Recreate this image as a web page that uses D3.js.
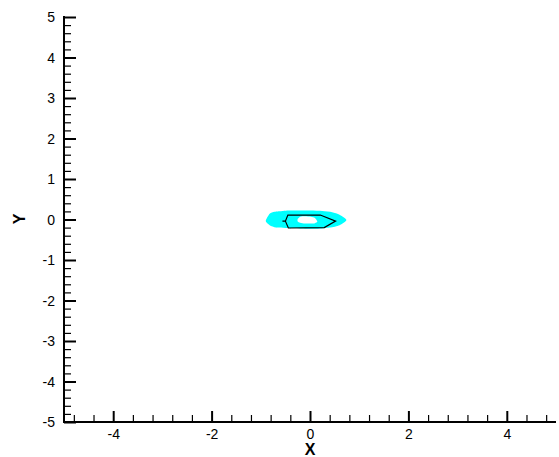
<!DOCTYPE html>
<html><head><meta charset="utf-8">
<script src="https://cdn.jsdelivr.net/npm/d3@7"></script>
<style>body{margin:0;background:#fff}svg{display:block}</style>
</head><body>
<svg id="c" width="559" height="457"></svg>
<script>
const xTicks = [-4, -2, 0, 2, 4];
const yTicks = [-5, -4, -3, -2, -1, 0, 1, 2, 3, 4, 5];
// outer cyan contour region (x, y)
const outerX = [-0.90, -0.82, -0.72, -0.55, -0.42, 0.00, 0.25, 0.45, 0.60, 0.74, 0.60, 0.40, 0.13, -0.20, -0.50, -0.69, -0.82];
const outerY = [-0.04, 0.14, 0.19, 0.21, 0.22, 0.22, 0.21, 0.18, 0.12, -0.01, -0.14, -0.20, -0.23, -0.22, -0.21, -0.20, -0.14];
// inner white hole
const holeX = [-0.25, -0.20, -0.10, 0.02, 0.10, 0.15, 0.10, 0.02, -0.10, -0.20, -0.25];
const holeY = [0.01, 0.07, 0.08, 0.07, 0.04, -0.05, -0.09, -0.10, -0.10, -0.08, -0.05];
// black contour line
const lineX = [-0.56, -0.50, -0.45, 0.21, 0.52, 0.29, -0.44, -0.50];
const lineY = [-0.04, -0.04, 0.11, 0.11, -0.04, -0.20, -0.21, -0.04];

const svg = d3.select("#c");
const x = d3.scaleLinear().domain([-5, 5]).range([64, 556]);
const y = d3.scaleLinear().domain([-5, 5]).range([422, 17]);

const outer = outerX.map((v, i) => [v, outerY[i]]);
const hole = holeX.map((v, i) => [v, holeY[i]]);
const ln = lineX.map((v, i) => [v, lineY[i]]);

const closed = d3.line().x(d => x(d[0])).y(d => y(d[1])).curve(d3.curveCardinalClosed.tension(0.3));
const open = d3.line().x(d => x(d[0])).y(d => y(d[1]));

svg.append("path").attr("d", closed(outer)).attr("fill", "#00ffff");
svg.append("path").attr("d", closed(hole)).attr("fill", "#ffffff");
svg.append("path").attr("d", open(ln)).attr("fill", "none").attr("stroke", "#000").attr("stroke-width", 1.2);

// minor ticks
const xMinor = d3.range(-4.8, 5.0, 0.4).map(v => +v.toFixed(2)).filter(v => !xTicks.some(t => Math.abs(t - v) < 1e-6));
const yMinor = d3.range(-4.8, 5.0, 0.2).map(v => +v.toFixed(2)).filter(v => !yTicks.some(t => Math.abs(t - v) < 1e-6));

const font = "'Liberation Sans', Arial, sans-serif";

// X axis
const gx = svg.append("g").attr("transform", "translate(0,422)");
gx.call(d3.axisBottom(x).tickValues(xMinor).tickSize(-7).tickFormat(""));
gx.selectAll(".tick line").attr("stroke-width", 1.2);
gx.select(".domain").remove();
const gx2 = svg.append("g").attr("transform", "translate(0,422)");
gx2.call(d3.axisBottom(x).tickValues(xTicks).tickSize(-11).tickSizeOuter(0).tickPadding(0).tickFormat(d3.format("d")));
gx2.selectAll(".tick line").attr("stroke-width", 2);
gx2.selectAll(".tick text").attr("y", 17).attr("dy", "0").attr("font-family", font).attr("font-size", 14).attr("fill", "#000").text(d => String(d));
gx2.select(".domain").attr("stroke-width", 2).attr("d", "M64,0H556");

// Y axis
const gy = svg.append("g").attr("transform", "translate(64,0)");
gy.call(d3.axisLeft(y).tickValues(yMinor).tickSize(-7).tickFormat(""));
gy.selectAll(".tick line").attr("stroke-width", 1.2);
gy.select(".domain").remove();
const gy2 = svg.append("g").attr("transform", "translate(64,0)");
gy2.call(d3.axisLeft(y).tickValues(yTicks).tickSize(-12).tickSizeOuter(0).tickFormat(d3.format("d")));
gy2.selectAll(".tick line").attr("stroke-width", 2);
gy2.selectAll(".tick text").attr("x", -9).attr("dy", "0.35em").attr("font-family", font).attr("font-size", 14).attr("fill", "#000").text(d => String(d));
gy2.select(".domain").attr("stroke-width", 2).attr("d", "M0,16V423");

// axis titles
svg.append("text").attr("x", 310).attr("y", 455).attr("text-anchor", "middle")
  .attr("font-family", font).attr("font-weight", "bold").attr("font-size", 16).text("X");
svg.append("text").attr("transform", "translate(25,219) rotate(-90)").attr("text-anchor", "middle")
  .attr("font-family", font).attr("font-weight", "bold").attr("font-size", 16).text("Y");
</script>
</body></html>
